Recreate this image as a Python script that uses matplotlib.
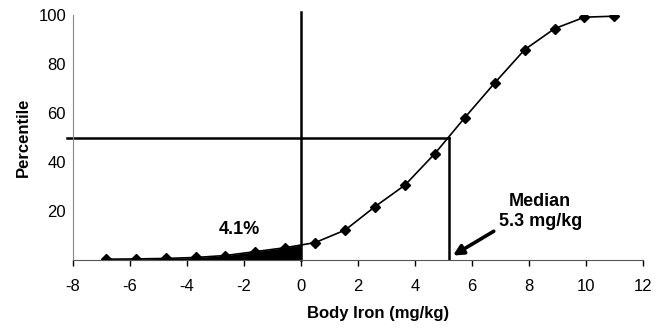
import numpy as np
import matplotlib.pyplot as plt

plt.rcParams['font.family'] = ['Liberation Sans', 'DejaVu Sans']
plt.rcParams['axes.unicode_minus'] = False

# cumulative distribution of body iron
body_iron = [-6.85, -5.8, -4.75, -3.7, -2.65, -1.6, -0.55, 0.5, 1.55, 2.6,
             3.65, 4.7, 5.75, 6.8, 7.85, 8.9, 9.95, 11.0]
percentile = [0.3, 0.4, 0.6, 1.0, 1.8, 3.4, 5.0, 7.1, 12.2, 21.8,
              30.6, 43.5, 58.2, 72.4, 86.0, 94.6, 99.3, 99.7]

median_x = 5.2
median_y = 50
cut_x = 0
below_cut = '4.1%'
xticks = [-8, -6, -4, -2, 0, 2, 4, 6, 8, 10, 12]
yticks = [20, 40, 60, 80, 100]

fig = plt.figure(figsize=(6.58, 3.29), dpi=100)
ax = fig.add_axes([0.111, 0.21, 0.866, 0.743])

# shaded area under the curve left of the cut
xs = np.array(body_iron)
ys = np.array(percentile)
y_cut = np.interp(cut_x, xs, ys)
fx = np.append(xs[xs < cut_x], cut_x)
fy = np.append(ys[xs < cut_x], y_cut)
ax.fill_between(fx, 0, fy, color='black', lw=0)

ax.plot(body_iron, percentile, color='black', lw=1.2, marker='D', ms=5)

# reference lines
ax.plot([-8.2, median_x], [median_y, median_y], color='black', lw=1.8, clip_on=False)
ax.plot([median_x, median_x], [0, median_y], color='black', lw=1.8)
ax.plot([cut_x, cut_x], [0, 101.5], color='black', lw=1.8, clip_on=False)

ax.text(-2.15, 12.6, below_cut, fontsize=13, fontweight='bold', ha='center', va='center')
ax.text(8.4, 19.8, 'Median\n5.3 mg/kg', fontsize=13, fontweight='bold',
        ha='center', va='center', linespacing=1.2)
ax.annotate('', xy=(median_x + 0.05, 1.2), xytext=(6.85, 12.3),
            arrowprops=dict(arrowstyle='-|>', color='black', lw=2.6, mutation_scale=15))

ax.set_xlim(-8, 12)
ax.set_ylim(0, 100)
ax.set_xticks(xticks)
ax.set_yticks(yticks)
ax.tick_params(axis='x', length=4, width=1, pad=10, labelsize=12)
ax.tick_params(axis='y', length=0, pad=5, labelsize=12)

ax.spines['top'].set_visible(False)
ax.spines['right'].set_visible(False)
ax.spines['left'].set_color('#888888')
ax.spines['left'].set_linewidth(0.8)
ax.spines['bottom'].set_color('#555555')

ax.set_xlabel('Body Iron (mg/kg)', fontsize=12, fontweight='bold')
ax.xaxis.set_label_coords(0.535, -0.19)
ax.set_ylabel('Percentile', fontsize=12, fontweight='bold')
ax.yaxis.set_label_coords(-0.074, 0.5)

fig.savefig('out.png', dpi=100)
